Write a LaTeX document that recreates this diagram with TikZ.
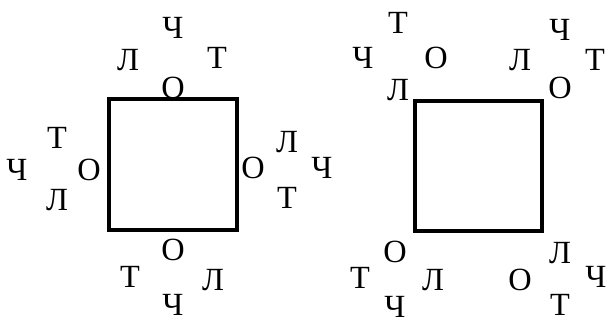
\documentclass[tikz,border=0pt]{standalone}
\usepackage{fontspec}
\setmainfont{Liberation Serif}
\usetikzlibrary{positioning}

\begin{document}
\begin{tikzpicture}[
    x=0.025cm, y=-0.025cm,
    sq/.style={draw, rectangle, line width=2.4pt, inner sep=0pt},
    lt/.style={inner sep=0pt, font=\fontsize{23}{23}\selectfont}
]
\useasboundingbox (0,0) rectangle (606,320);

% left square
\node[sq, minimum width=3.2cm, minimum height=3.275cm] (sqL) at (173,164.5) {};
% top
\node[lt] (lTo) at (173,88) {О};
\node[lt] (lTl) at (128,60) {Л};
\node[lt] (lTt) at (217,58) {Т};
\node[lt] (lTc) at (173,28) {Ч};
% left
\node[lt] (lLo) at (89,170) {О};
\node[lt] (lLt) at (57,138) {Т};
\node[lt] (lLl) at (57,200) {Л};
\node[lt] (lLc) at (17,170) {Ч};
% right
\node[lt] (lRo) at (253,168) {О};
\node[lt] (lRl) at (287,142) {Л};
\node[lt] (lRt) at (287,198) {Т};
\node[lt] (lRc) at (322,168) {Ч};
% bottom
\node[lt] (lBo) at (173,250) {О};
\node[lt] (lBt) at (130,277) {Т};
\node[lt] (lBl) at (213,280) {Л};
\node[lt] (lBc) at (173,305) {Ч};

% right square
\node[sq, minimum width=3.175cm, minimum height=3.25cm] (sqR) at (478.5,166) {};
% top left corner
\node[lt] (rAl) at (398,90) {Л};
\node[lt] (rAc) at (363,58) {Ч};
\node[lt] (rAo) at (436,58) {О};
\node[lt] (rAt) at (398,23) {Т};
% top right corner
\node[lt] (rBo) at (560,88) {О};
\node[lt] (rBl) at (520,60) {Л};
\node[lt] (rBt) at (595,60) {Т};
\node[lt] (rBc) at (560,30) {Ч};
% bottom left corner
\node[lt] (rCo) at (395,252) {О};
\node[lt] (rCt) at (360,278) {Т};
\node[lt] (rCl) at (433,280) {Л};
\node[lt] (rCc) at (395,307) {Ч};
% bottom right corner
\node[lt] (rDl) at (560,253) {Л};
\node[lt] (rDo) at (520,280) {О};
\node[lt] (rDc) at (596,277) {Ч};
\node[lt] (rDt) at (560,305) {Т};
\end{tikzpicture}
\end{document}
